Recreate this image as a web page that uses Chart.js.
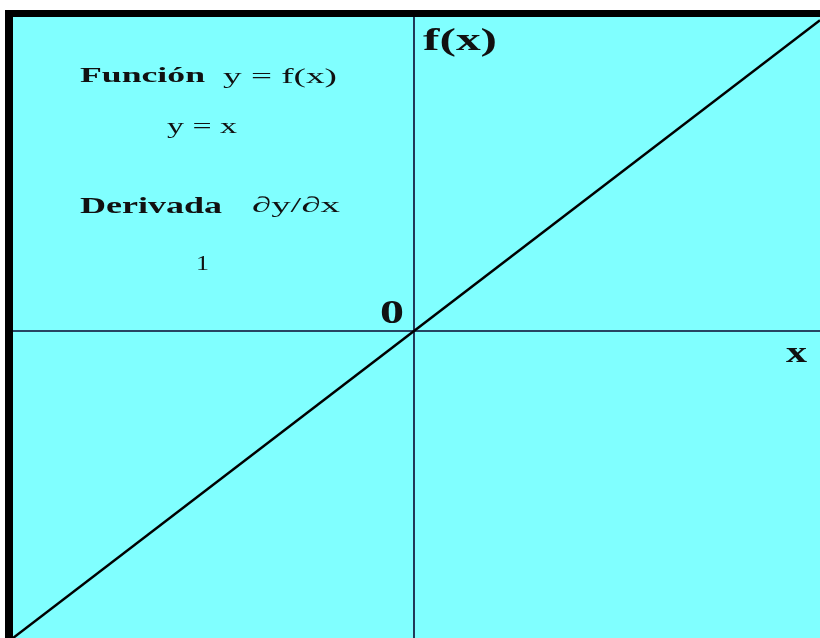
<!DOCTYPE html>
<html>
<head>
<meta charset="utf-8">
<script src="https://cdn.jsdelivr.net/npm/chart.js@4"></script>
<style>
  body { margin: 0; background: #fff; }
  canvas { display: block; }
</style>
</head>
<body>
<canvas id="chart" width="820" height="638"></canvas>
<script>
// recta y = x
const xValues = [-1, 0, 1.0125];
const yValues = [-1, 0, 1.0125];

const xRange = [-1, 1.0125];
const yRange = [-1, 1.0228];

const serif = '"Liberation Serif", "Times New Roman", serif';

// textos sobre el grafico (x, linea base, ancho estirado)
const labels = [
	{ text: "Función", font: "bold 22px " + serif, x: 80, y: 82, w: 125 },
	{ text: "y = f(x)", font: "22px " + serif, x: 223, y: 83, w: 114 },
	{ text: "y = x", font: "22px " + serif, x: 167, y: 133, w: 70 },
	{ text: "Derivada", font: "bold 24px " + serif, x: 80, y: 213, w: 142 },
	{ text: "∂y/∂x", font: "22px " + serif, x: 252, y: 212, w: 88 },
	{ text: "1", font: "22px " + serif, x: 196, y: 270, w: 13 },
	{ text: "f(x)", font: "bold 32px " + serif, x: 423, y: 50, w: 74 },
	{ text: "0", font: "bold 34px " + serif, x: 380, y: 323, w: 24 },
	{ text: "x", font: "bold 30px " + serif, x: 786, y: 362, w: 21 },
];

const points = xValues.map((x, i) => ({ x: x, y: yValues[i] }));

const framePlugin = {
	id: "frame",
	beforeDraw(chart) {
		const ctx = chart.ctx;
		const area = chart.chartArea;
		ctx.save();
		ctx.fillStyle = "rgb(128, 255, 255)";
		ctx.fillRect(area.left, area.top, area.right - area.left, area.bottom - area.top);
		// borde negro arriba e izquierda
		ctx.fillStyle = "#000";
		ctx.fillRect(5, 10, chart.width - 5, 7);
		ctx.fillRect(5, 10, 8, chart.height - 10);
		// ejes
		const x0 = chart.scales.x.getPixelForValue(0);
		const y0 = chart.scales.y.getPixelForValue(0);
		ctx.strokeStyle = "#0a0a30";
		ctx.lineWidth = 1.6;
		ctx.beginPath();
		ctx.moveTo(x0, area.top);
		ctx.lineTo(x0, area.bottom);
		ctx.moveTo(area.left, y0);
		ctx.lineTo(area.right, y0);
		ctx.stroke();
		ctx.restore();
	},
	afterDraw(chart) {
		const ctx = chart.ctx;
		ctx.save();
		ctx.fillStyle = "#111";
		ctx.textBaseline = "alphabetic";
		labels.forEach((l) => {
			ctx.font = l.font;
			const natural = ctx.measureText(l.text).width;
			ctx.save();
			ctx.translate(l.x, l.y);
			ctx.scale(l.w / natural, 1);
			ctx.fillText(l.text, 0, 0);
			ctx.restore();
		});
		ctx.restore();
	},
};

new Chart(document.getElementById("chart"), {
	type: "scatter",
	data: {
		datasets: [
			{
				data: points,
				showLine: true,
				borderColor: "#000",
				borderWidth: 2.5,
				pointRadius: 0,
			},
		],
	},
	options: {
		responsive: false,
		animation: false,
		layout: { padding: { left: 13, top: 17, right: 0, bottom: 0 } },
		plugins: { legend: { display: false }, tooltip: { enabled: false } },
		scales: {
			x: { type: "linear", display: false, min: xRange[0], max: xRange[1] },
			y: { type: "linear", display: false, min: yRange[0], max: yRange[1] },
		},
	},
	plugins: [framePlugin],
});
</script>
</body>
</html>
